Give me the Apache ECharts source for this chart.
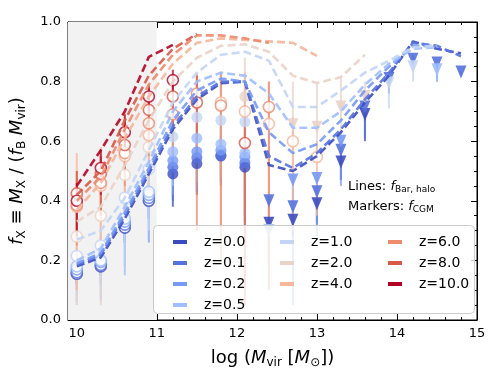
<!DOCTYPE html>
<html>
<head>
<meta charset="utf-8">
<script src="https://cdn.jsdelivr.net/npm/echarts@6/dist/echarts.min.js"></script>
<style>
  html, body { margin: 0; padding: 0; background: #fff; }
  #chart { width: 500px; height: 380px; }
</style>
</head>
<body>
<div id="chart"></div>
<script>
// halo mass grid (log Mvir)
const logM = [10.0, 10.3, 10.6, 10.9, 11.2, 11.5, 11.8, 12.1, 12.4, 12.7, 13.0, 13.3, 13.6, 13.9, 14.2, 14.5, 14.8];
const zNames = ['z=0.0', 'z=0.1', 'z=0.2', 'z=0.5', 'z=1.0', 'z=2.0', 'z=4.0', 'z=6.0', 'z=8.0', 'z=10.0'];
const zColors = ['#3b4cc0', '#5572df', '#7699f6', '#9ebeff', '#c3d5f4', '#e9d3c7', '#f5b69b', '#ee8a6d', '#d95847', '#b40426'];

// lines: f_Bar,halo
const fBarHalo = [
  [0.18, 0.21, 0.34, 0.49, 0.64, 0.74, 0.795, 0.80, 0.52, 0.50, 0.55, 0.63, 0.73, 0.82, 0.935, 0.91, 0.895],
  [0.185, 0.22, 0.35, 0.50, 0.65, 0.75, 0.80, 0.80, 0.55, 0.51, 0.56, 0.64, 0.74, 0.83, 0.93, 0.92, 0.885],
  [0.19, 0.225, 0.36, 0.51, 0.67, 0.77, 0.81, 0.80, 0.63, 0.56, 0.59, 0.67, 0.77, 0.85, 0.92, 0.92],
  [0.20, 0.24, 0.38, 0.53, 0.70, 0.80, 0.83, 0.82, 0.76, 0.645, 0.645, 0.70, 0.79, 0.86, 0.91, 0.915],
  [0.27, 0.30, 0.41, 0.57, 0.73, 0.83, 0.89, 0.90, 0.87, 0.715, 0.715, 0.77, 0.83, 0.87, 0.915, 0.92],
  [0.33, 0.38, 0.52, 0.67, 0.80, 0.88, 0.92, 0.925, 0.90, 0.82, 0.795, 0.815, 0.89],
  [0.37, 0.46, 0.61, 0.75, 0.86, 0.93, 0.945, 0.94, 0.935, 0.93, 0.886],
  [0.40, 0.48, 0.64, 0.79, 0.89, 0.955, 0.955, 0.945, 0.93],
  [0.42, 0.50, 0.67, 0.82, 0.91, 0.96],
  [0.45, 0.57, 0.70, 0.883, 0.923]
];

// markers: f_CGM (circles)
const fCgm = [
  [0.155, 0.18, 0.31, 0.40, 0.49, 0.525, 0.55, 0.513],
  [0.16, 0.185, 0.32, 0.41, 0.513, 0.545, 0.553, 0.527],
  [0.17, 0.195, 0.33, 0.42, 0.535, 0.565, 0.57, 0.547],
  [0.18, 0.20, 0.34, 0.43, 0.565, 0.61, 0.59, 0.56],
  [0.215, 0.25, 0.41, 0.507, 0.615, 0.68, 0.67, 0.665],
  [0.28, 0.35, 0.487, 0.58, null, null, null, 0.75],
  [0.38, 0.45, 0.55, 0.62, null, null, 0.73, 0.70, 0.658, 0.60, 0.547],
  [0.385, 0.46, 0.56, 0.66, 0.69, 0.76, 0.72, null, 0.715],
  [0.425, 0.49, 0.587, 0.705, 0.75, 0.73, null, 0.594],
  [0.40, 0.51, 0.63, 0.75, 0.805]
];

// markers: f_CGM upper limits (triangles)
const fCgmLim = [
  [null, null, null, null, null, null, null, null, 0.325, 0.335, 0.39, 0.53, 0.69],
  [null, null, null, null, null, null, null, null, 0.40, 0.38, 0.43, 0.57, 0.715, 0.81, 0.875, 0.862, 0.832],
  [null, null, null, null, null, null, null, null, null, 0.47, 0.475, 0.60],
  [null, null, null, null, null, null, null, null, 0.30, null, null, null, null, null, null, 0.84],
  [null, null, null, null, null, null, null, null, null, null, null, null, null, 0.795, 0.85],
  [null, null, null, null, null, null, null, null, null, 0.655, 0.647, 0.715, 0.75],
  [], [], [], []
];

// error bars (low / high)
const errLo = [
  [0.12, 0.15, 0.26, 0.34, 0.38, 0.42, 0.45, 0.31, 0.20, 0.28, 0.32, 0.47, 0.60],
  [0.12, 0.15, 0.26, 0.34, 0.40, 0.43, 0.46, 0.33, 0.18, 0.30, 0.33, 0.47, 0.61, 0.76, 0.86, 0.84, 0.82],
  [0.10, 0.12, 0.18, 0.26, 0.42, 0.44, 0.47, 0.35, null, 0.05, 0.28, 0.45, null, null, null, 0.80],
  [0.06, 0.07, 0.15, 0.27, 0.45, 0.46, 0.48, 0.38, 0.10, null, null, null, null, null, null, 0.80],
  [0.05, 0.06, 0.18, 0.30, 0.50, 0.52, 0.50, 0.45, null, null, null, null, null, 0.71, 0.80],
  [0.05, 0.05, 0.30, 0.40, null, null, null, 0.10, null, 0.50, 0.55, 0.62, 0.70],
  [0.10, 0.20, 0.40, 0.50, null, null, 0.30, 0.35, 0.20, 0.30, 0.35],
  [0.25, 0.35, 0.45, 0.55, 0.55, 0.30, 0.20, null, 0.10],
  [0.30, 0.35, 0.50, 0.62, 0.65, 0.60, null, 0.05],
  [0.28, 0.42, 0.58, 0.70, 0.76]
];
const errHi = [
  [0.19, 0.21, 0.36, 0.45, 0.55, 0.60, 0.60, 0.58, 0.33, 0.34, 0.39, 0.53, 0.69],
  [0.19, 0.22, 0.37, 0.46, 0.58, 0.62, 0.62, 0.60, 0.40, 0.38, 0.43, 0.57, 0.715, 0.815, 0.89, 0.862, 0.835],
  [0.22, 0.25, 0.40, 0.48, 0.62, 0.65, 0.66, 0.63, null, 0.47, 0.475, 0.60, null, null, null, 0.84],
  [0.24, 0.28, 0.42, 0.50, 0.66, 0.70, 0.70, 0.68, 0.30, null, null, null, null, null, null, 0.84],
  [0.30, 0.35, 0.45, 0.55, 0.70, 0.75, 0.75, 0.80, null, null, null, null, null, 0.82, 0.875],
  [0.40, 0.45, 0.60, 0.68, null, null, null, 0.88, null, 0.80, 0.80, 0.82, 0.80],
  [0.56, 0.58, 0.70, 0.75, null, null, 0.83, 0.83, 0.80, 0.68, 0.60],
  [0.50, 0.55, 0.68, 0.75, 0.80, 0.83, 0.83, null, 0.80],
  [0.50, 0.55, 0.67, 0.78, 0.82, 0.82, null, 0.72],
  [0.46, 0.57, 0.69, 0.79, 0.84]
];

const xMajor = [10, 11, 12, 13, 14, 15];
const xMinor = [];
for (let v = 100; v < 150; v += 2) { if (v % 10) xMinor.push(v / 10); }

const FONT = 'DejaVu Sans';
const chart = echarts.init(document.getElementById('chart'));

const series = [{
  type: 'line', data: [], silent: true, z: 0,
  markArea: { silent: true, itemStyle: { color: '#f2f2f2' },
    data: [[{ xAxis: 9.89, yAxis: 0 }, { xAxis: 11, yAxis: 1 }]] }
}];

zNames.forEach(function (name, k) {
  const c = zColors[k];
  const bars = [];
  logM.forEach(function (x, i) {
    if (errLo[k][i] != null && errHi[k][i] != null) bars.push([x, errLo[k][i], errHi[k][i]]);
  });
  series.push({
    type: 'line', name: name, showSymbol: false, silent: true,
    data: fBarHalo[k].map(function (v, i) { return [logM[i], v]; }),
    lineStyle: { color: c, width: 2.6, type: [8, 4], opacity: 0.9 },
    itemStyle: { color: c }
  });
  series.push({
    type: 'custom', name: name, data: bars, encode: { x: 0, y: [1, 2] }, silent: true,
    itemStyle: { color: c },
    renderItem: function (params, api) {
      const a = api.coord([api.value(0), api.value(1)]);
      const b = api.coord([api.value(0), api.value(2)]);
      return { type: 'line', shape: { x1: a[0], y1: a[1], x2: b[0], y2: b[1] },
        style: { stroke: c, lineWidth: 2, opacity: 0.75 } };
    }
  });
  const circ = [];
  fCgm[k].forEach(function (v, i) {
    if (v == null) return;
    const open = logM[i] < 11 || k >= 6;
    circ.push({ value: [logM[i], v], itemStyle: open
      ? { color: '#fff', borderColor: c, borderWidth: 1.6 }
      : { color: c, borderWidth: 0 } });
  });
  series.push({ type: 'scatter', name: name, data: circ, symbol: 'circle', symbolSize: 11,
    itemStyle: { color: c }, silent: true });
  const tri = [];
  fCgmLim[k].forEach(function (v, i) { if (v != null) tri.push([logM[i], v]); });
  series.push({ type: 'scatter', name: name, data: tri, symbol: 'triangle', symbolRotate: 180,
    symbolSize: [11, 13], itemStyle: { color: c, opacity: 0.9 }, silent: true });
});

function legendCol(names, left) {
  return {
    data: names.map(function (n) {
      return { name: n, itemStyle: { color: zColors[zNames.indexOf(n)] } };
    }),
    orient: 'vertical', left: left, top: 229, icon: 'rect',
    itemWidth: 14, itemHeight: 4, itemGap: 5, z: 7, selectedMode: false,
    textStyle: { fontFamily: FONT, fontSize: 14, color: '#000', lineHeight: 16, padding: [0, 0, 0, 12] }
  };
}

const subStyle = { fontFamily: FONT, fontSize: 12, padding: [9, 0, 0, 0], color: '#000' };
const itStyle = { fontFamily: FONT, fontSize: 18, fontStyle: 'italic', color: '#000' };
const nStyle = { fontFamily: FONT, fontSize: 18, color: '#000' };

function xAx(major, pos) {
  return {
    type: 'value', min: 9.89, max: 15, position: pos, gridIndex: 0,
    axisLine: { show: major, onZero: false, lineStyle: { color: '#000', width: 1 } },
    axisTick: { show: true, inside: true, length: major ? 6 : 3, customValues: major ? xMajor : xMinor,
      lineStyle: { color: '#000' } },
    axisLabel: { show: false },
    splitLine: { show: false }
  };
}
const xBottom = xAx(true, 'bottom');
xBottom.axisLabel = { show: true, customValues: xMajor, fontFamily: FONT, fontSize: 13, color: '#000', margin: 7 };
xBottom.name = '{n|log (}{i|M}{s|vir}{n| [}{i|M}{s|⊙}{n|])}';
xBottom.nameLocation = 'middle';
xBottom.nameGap = 28;
xBottom.nameTextStyle = { rich: { n: nStyle, i: itStyle, s: subStyle } };

function yAx(left) {
  return {
    type: 'value', min: 0, max: 1, interval: 0.2, position: left ? 'left' : 'right',
    axisLine: { show: true, onZero: false, lineStyle: { color: '#000', width: 1 } },
    axisTick: { inside: true, length: 6, lineStyle: { color: '#000' } },
    minorTick: { show: true, splitNumber: 4, length: 3, lineStyle: { color: '#000' } },
    axisLabel: { show: left, fontFamily: FONT, fontSize: 13, color: '#000', margin: 7,
      formatter: function (v) { return v.toFixed(1); } },
    splitLine: { show: false }
  };
}
const yLeft = yAx(true);
yLeft.name = '{i|f}{s|X}{n| ≡ }{i|M}{s|X}{n| / (}{i|f}{s|B}{n| }{i|M}{s|vir}{n|)}';
yLeft.nameLocation = 'middle';
yLeft.nameGap = 40;
yLeft.nameRotate = 90;
yLeft.nameTextStyle = { rich: { n: nStyle, i: itStyle, s: subStyle } };

// the top pair mirrors the bottom ticks; a plain border closes the frame
const xTop = xAx(true, 'top');
const xTopMinor = xAx(false, 'top');

chart.setOption({
  animation: false,
  backgroundColor: '#fff',
  grid: { left: 68, right: 23, top: 22, bottom: 60, show: true, borderColor: '#000', borderWidth: 1,
    backgroundColor: 'transparent' },
  xAxis: [xBottom, xTop, xAx(false, 'bottom'), xTopMinor],
  yAxis: [yLeft, yAx(false)],
  legend: [
    legendCol(zNames.slice(0, 4), 168),
    legendCol(zNames.slice(4, 7), 275),
    legendCol(zNames.slice(7, 10), 383)
  ],
  graphic: [
    { type: 'rect', z: 6, shape: { x: 153.5, y: 225.5, width: 321, height: 88, r: 4 },
      style: { fill: 'rgba(255,255,255,0.8)', stroke: '#cccccc', lineWidth: 1 } },
    { type: 'text', z: 7, left: 348, top: 180,
      style: { text: '{n|Lines: }{i|f}{s|Bar, halo}',
        rich: { n: { fontFamily: FONT, fontSize: 13, color: '#000' },
          i: { fontFamily: FONT, fontSize: 13, fontStyle: 'italic', color: '#000' },
          s: { fontFamily: FONT, fontSize: 9, color: '#000', padding: [7, 0, 0, 0] } } } },
    { type: 'text', z: 7, left: 348, top: 200,
      style: { text: '{n|Markers: }{i|f}{s|CGM}',
        rich: { n: { fontFamily: FONT, fontSize: 13, color: '#000' },
          i: { fontFamily: FONT, fontSize: 13, fontStyle: 'italic', color: '#000' },
          s: { fontFamily: FONT, fontSize: 9, color: '#000', padding: [7, 0, 0, 0] } } } }
  ],
  series: series
});
</script>
</body>
</html>
